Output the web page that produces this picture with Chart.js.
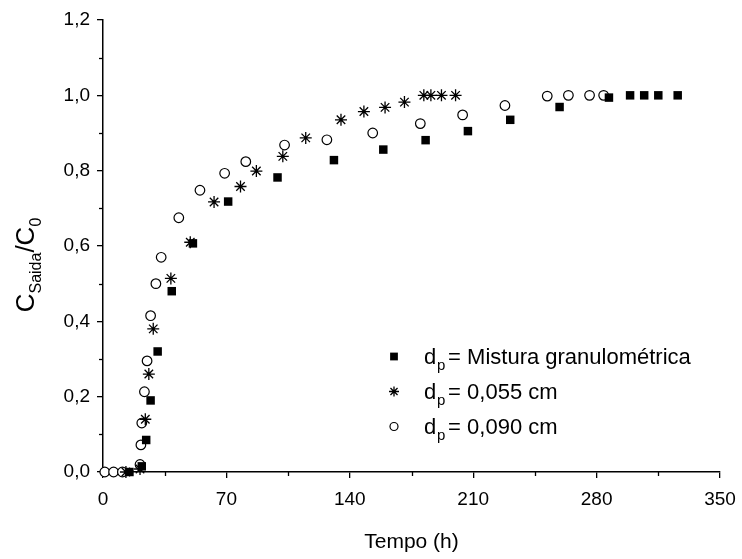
<!DOCTYPE html>
<html><head><meta charset="utf-8">
<script src="https://cdn.jsdelivr.net/npm/chart.js@4/dist/chart.umd.min.js"></script>
<style>html,body{margin:0;padding:0;background:#fff}#wrap{width:742px;height:559px;position:relative}</style>
</head><body><div id="wrap"><canvas id="c" width="742" height="559"></canvas></div>
<script>
// ---- data ----
const xTickValues = [0, 70, 140, 210, 280, 350];
const yTickValues = [0, 0.2, 0.4, 0.6, 0.8, 1.0, 1.2];
const xMinorValues = [35, 105, 175, 245, 315];
const yMinorValues = [0.1, 0.3, 0.5, 0.7, 0.9, 1.1];
const seriesLabels = ['= Mistura granulométrica', '= 0,055 cm', '= 0,090 cm'];
const xTitle = 'Tempo (h)';

const mixTime  = [15, 22, 24.5, 27, 31, 39, 51, 71, 99, 131, 159, 183, 207, 231, 259, 287, 299, 307, 315, 326];
const mixValue = [0, 0.015, 0.085, 0.19, 0.32, 0.48, 0.607, 0.718, 0.782, 0.828, 0.856, 0.881, 0.905, 0.935, 0.969, 0.994, 1.0, 1.0, 1.0, 1.0];

const d055Time  = [13, 21, 24, 26, 28.5, 38.5, 49.5, 63, 78, 87, 102, 115, 135, 148, 160, 171, 182, 186, 192, 200];
const d055Value = [0, 0.008, 0.14, 0.26, 0.38, 0.514, 0.61, 0.717, 0.758, 0.799, 0.838, 0.887, 0.935, 0.957, 0.968, 0.982, 1.0, 1.0, 1.0, 1.0];

const d090Time  = [1, 6, 11, 21, 21.5, 22, 23.5, 25, 27, 30, 33, 43, 55, 69, 81, 103, 127, 153, 180, 204, 228, 252, 264, 276, 284];
const d090Value = [0, 0, 0, 0.02, 0.072, 0.13, 0.213, 0.295, 0.415, 0.50, 0.57, 0.675, 0.748, 0.793, 0.824, 0.868, 0.882, 0.900, 0.925, 0.948, 0.973, 0.998, 1.0, 1.0, 1.0];

const toPts = (xs, ys) => xs.map((x, i) => ({x: x, y: ys[i]}));
const FONT = "'Liberation Sans', Arial, sans-serif";

const styles = [
  {pointStyle: 'rect', radius: 6, backgroundColor: '#000', borderColor: '#000', borderWidth: 0},
  {pointStyle: 'star', radius: 6, backgroundColor: '#000', borderColor: '#000', borderWidth: 1.3},
  {pointStyle: 'circle', radius: 4.8, backgroundColor: '#fff', borderColor: '#000', borderWidth: 1.2}
];

const extras = {
  id: 'extras',
  afterDraw(chart) {
    const ctx = chart.ctx;
    const xs = chart.scales.x, ys = chart.scales.y;
    const ca = chart.chartArea;
    ctx.save();
    ctx.strokeStyle = '#000';
    ctx.lineWidth = 1.3;
    // minor ticks
    xMinorValues.forEach(v => {
      const p = Math.round(xs.getPixelForValue(v)) + 0.5;
      ctx.beginPath(); ctx.moveTo(p, ca.bottom); ctx.lineTo(p, ca.bottom + 4); ctx.stroke();
    });
    yMinorValues.forEach(v => {
      const p = Math.round(ys.getPixelForValue(v)) + 0.5;
      ctx.beginPath(); ctx.moveTo(ca.left, p); ctx.lineTo(ca.left - 4, p); ctx.stroke();
    });
    ctx.fillStyle = '#000';
    // x title
    ctx.font = '21px ' + FONT;
    ctx.textAlign = 'center';
    ctx.textBaseline = 'alphabetic';
    ctx.fillText(xTitle, (ca.left + ca.right) / 2, 548);
    // y title with subscripts
    ctx.save();
    ctx.translate(34, 265);
    ctx.rotate(-Math.PI / 2);
    ctx.textAlign = 'left';
    const big = '26px ' + FONT, small = '16px ' + FONT;
    const parts = [['C', big, 0], ['Saida', small, 7], ['/C', big, 0], ['0', small, 7]];
    let total = 0;
    parts.forEach(p => { ctx.font = p[1]; total += ctx.measureText(p[0]).width; });
    let cx = -total / 2;
    parts.forEach(p => { ctx.font = p[1]; ctx.fillText(p[0], cx, p[2]); cx += ctx.measureText(p[0]).width; });
    ctx.restore();
    // legend
    const rows = [364, 399, 434];
    chart.data.datasets.forEach((ds, i) => {
      const st = styles[i];
      ctx.save();
      ctx.fillStyle = st.backgroundColor;
      ctx.strokeStyle = st.borderColor;
      ctx.lineWidth = st.borderWidth;
      const r = i === 2 ? 4 : (i === 0 ? 5.5 : 5);
      Chart.helpers.drawPoint(ctx, {pointStyle: st.pointStyle, radius: r, borderWidth: st.borderWidth, rotation: 0}, 394, rows[i] - 7.5);
      ctx.restore();
      ctx.fillStyle = '#000';
      ctx.textAlign = 'left';
      ctx.font = '22px ' + FONT;
      ctx.fillText('d', 424, rows[i]);
      ctx.font = '15px ' + FONT;
      ctx.fillText('p', 437, rows[i] + 6);
      ctx.font = '22px ' + FONT;
      ctx.fillText(' ' + seriesLabels[i], 442, rows[i]);
    });
    ctx.restore();
  }
};

new Chart(document.getElementById('c'), {
  type: 'scatter',
  data: {
    datasets: [
      Object.assign({label: seriesLabels[0], data: toPts(mixTime, mixValue), clip: false}, styles[0]),
      Object.assign({label: seriesLabels[1], data: toPts(d055Time, d055Value), clip: false}, styles[1]),
      Object.assign({label: seriesLabels[2], data: toPts(d090Time, d090Value), clip: false}, styles[2])
    ]
  },
  options: {
    responsive: false,
    animation: false,
    devicePixelRatio: 1,
    layout: {padding: {top: 20, right: 22, left: 0, bottom: 0}},
    plugins: {legend: {display: false}, tooltip: {enabled: false}},
    elements: {point: {hoverRadius: 6}},
    scales: {
      x: {
        type: 'linear', min: 0, max: 350,
        afterBuildTicks: s => { s.ticks = xTickValues.map(v => ({value: v})); },
        afterFit: s => { s.height = 87; s.paddingLeft = 0; s.paddingRight = 0; },
        ticks: {font: {family: FONT, size: 19}, color: '#000', padding: 10, maxRotation: 0, autoSkip: false,
                callback: v => String(v)},
        grid: {drawOnChartArea: false, drawTicks: true, tickLength: 6, color: '#000', lineWidth: 1.3},
        border: {display: true, color: '#000', width: 1.5}
      },
      y: {
        type: 'linear', min: 0, max: 1.2,
        afterBuildTicks: s => { s.ticks = yTickValues.map(v => ({value: v})); },
        afterFit: s => { s.width = 103; s.paddingTop = 0; s.paddingBottom = 0; },
        ticks: {font: {family: FONT, size: 19}, color: '#000', padding: 7, autoSkip: false,
                callback: v => v.toFixed(1).replace('.', ',')},
        grid: {drawOnChartArea: false, drawTicks: true, tickLength: 6, color: '#000', lineWidth: 1.3},
        border: {display: true, color: '#000', width: 1.5}
      }
    }
  },
  plugins: [extras]
});
</script>
</body></html>
